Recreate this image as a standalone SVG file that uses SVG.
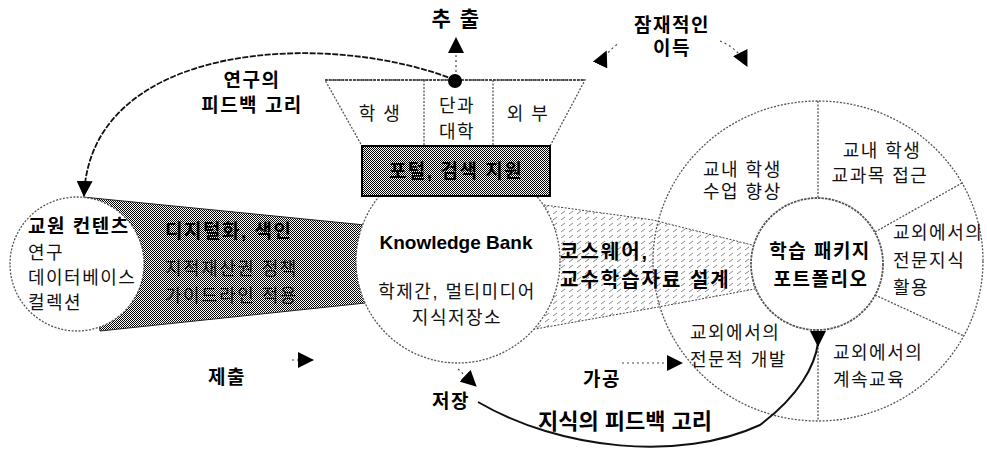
<svg xmlns="http://www.w3.org/2000/svg" width="987" height="453" viewBox="0 0 987 453">
<defs>
<style>
.t{font-family:"Liberation Sans","Noto Sans CJK KR",sans-serif;font-size:18px;fill:#111;letter-spacing:1.5px}
.b{font-weight:bold;font-size:19px;fill:#000}
.m{text-anchor:middle}
.dot{fill:none;stroke:#555;stroke-width:1.3;stroke-dasharray:2 1.5}
.wdot{fill:#fff;stroke:#555;stroke-width:1.3;stroke-dasharray:2 1.5}
.faint{fill:none;stroke:#444;stroke-width:1.2;stroke-dasharray:2 3}
</style>
<pattern id="dk" width="2" height="2" patternUnits="userSpaceOnUse">
<rect width="2" height="2" fill="#fff"/><rect width="1" height="1" fill="#000"/><rect x="1" y="1" width="1" height="1" fill="#000"/>
</pattern>
<pattern id="lt" width="8" height="6" patternUnits="userSpaceOnUse">
<rect width="8" height="6" fill="#fff"/><path d="M1,4 L5,1" stroke="#777" stroke-width="0.9"/>
</pattern>
<marker id="hEnd" markerUnits="userSpaceOnUse" markerWidth="16" markerHeight="16" viewBox="0 0 16 16" refX="15" refY="8" orient="auto">
<path d="M0,0 L16,8 L0,16 z" fill="#000"/>
</marker>
<marker id="hStart" markerUnits="userSpaceOnUse" markerWidth="16" markerHeight="16" viewBox="0 0 16 16" refX="0" refY="8" orient="auto">
<path d="M0,0 L16,8 L0,16 z" fill="#000"/>
</marker>
</defs>
<rect width="987" height="453" fill="#fff"/>

<g id="band-digitize">
<polygon points="83,197 375,226 375,302 100,331" fill="url(#dk)" stroke="#222" stroke-width="1"/>
</g>
<g id="band-course">
<polygon points="530,203 653,220 760,247 760,288 653,308 530,330" fill="url(#lt)" stroke="#444" stroke-width="1" stroke-dasharray="2 1.5"/>
</g>

<g id="fan">
<ellipse cx="818" cy="261" rx="165" ry="160" class="dot"/>
<line x1="818" y1="101" x2="818" y2="198" class="dot"/>
<line x1="875" y1="232" x2="962" y2="183" class="dot"/>
<line x1="875" y1="295" x2="964" y2="336" class="dot"/>
<line x1="818" y1="330" x2="818" y2="421" class="dot"/>
</g>

<g id="faculty-content">
<circle cx="77" cy="264" r="67" class="wdot"/>
</g>
<g id="knowledge-bank">
<circle cx="458" cy="261" r="102" class="wdot"/>
</g>
<g id="learning-package">
<circle cx="817" cy="264" r="66" fill="#fff" stroke="#555" stroke-width="1.8" stroke-dasharray="2.5 1"/>
</g>

<g id="funnel">
<polygon points="325,80 585,80 550,146 362,146" fill="#fff" stroke="#555" stroke-width="1.3" stroke-dasharray="2 1.5"/>
<line x1="325" y1="80" x2="585" y2="80" stroke="#333" stroke-width="1.5" stroke-dasharray="3 1"/>
<line x1="424" y1="80" x2="424" y2="146" class="dot"/>
<line x1="493" y1="80" x2="493" y2="146" class="dot"/>
</g>
<g id="portal">
<rect x="362" y="146" width="188" height="50" fill="url(#dk)" stroke="#000" stroke-width="2"/>
</g>

<g id="connectors">
<path d="M455,80 C330,30 90,40 84,196" stroke="#111" stroke-width="1.8" fill="none" stroke-dasharray="6 1.5" marker-end="url(#hEnd)"/>
<circle cx="455" cy="81" r="7" fill="#000"/>
<path d="M456,72 L456,38" class="faint" marker-end="url(#hEnd)"/>
<path d="M600,65 Q606,52 619,43" class="faint" marker-start="url(#hStart)"/>
<path d="M720,41 Q738,48 747,66" class="faint" marker-end="url(#hEnd)"/>
<path d="M292,360 L313,360" class="faint" marker-end="url(#hEnd)"/>
<path d="M458,369 L476,386" class="faint" marker-end="url(#hEnd)"/>
<path d="M622,363 L682,363" class="faint" marker-end="url(#hEnd)"/>
<path d="M478,402 C560,450 680,462 760,425 C800,395 815,365 818,343" stroke="#111" stroke-width="2" fill="none"/>
<path d="M818,331 L818,346" stroke="#111" stroke-width="1.5" fill="none" marker-start="url(#hStart)"/>
</g>

<g id="labels">
<text class="t b m" x="456" y="26" style="font-size:21px">추 출</text>
<text class="t b m" x="252" y="87">연구의</text>
<text class="t b m" x="252" y="112">피드백 고리</text>
<text class="t b m" x="672" y="32">잠재적인</text>
<text class="t b m" x="672" y="55">이득</text>
<text class="t b m" x="227" y="384">제출</text>
<text class="t b m" x="451" y="408">저장</text>
<text class="t b m" x="602" y="386">가공</text>
<text class="t b m" x="625" y="429" style="font-size:22px;letter-spacing:0">지식의 피드백 고리</text>
</g>

<g id="funnel-text">
<text class="t m" x="380" y="120">학 생</text>
<text class="t m" x="457" y="112">단과</text>
<text class="t m" x="457" y="138">대학</text>
<text class="t m" x="528" y="120">외 부</text>
<text class="t b m" x="456" y="178">포털, 검색 지원</text>
</g>

<g id="kb-text">
<text class="t b m" x="456" y="249" style="letter-spacing:0">Knowledge Bank</text>
<text class="t m" x="457" y="298">학제간, 멀티미디어</text>
<text class="t m" x="457" y="324">지식저장소</text>
</g>

<g id="faculty-text">
<text class="t b" x="28" y="233">교원 컨텐츠</text>
<text class="t" x="28" y="259">연구</text>
<text class="t" x="28" y="284">데이터베이스</text>
<text class="t" x="28" y="309">컬렉션</text>
</g>

<g id="digitize-text">
<text class="t b" x="165" y="238">디지털화, 색인</text>
<text class="t" x="165" y="275">지적재산권 정책</text>
<text class="t" x="165" y="302">가이드라인 적용</text>
</g>

<g id="course-text">
<text class="t b" x="560" y="259" style="font-size:20px;letter-spacing:2px">코스웨어,</text>
<text class="t b" x="560" y="287" style="font-size:20px;letter-spacing:2px">교수학습자료 설계</text>
</g>

<g id="package-text">
<text class="t b m" x="820" y="258">학습 패키지</text>
<text class="t b m" x="821" y="286">포트폴리오</text>
</g>

<g id="fan-text">
<text class="t" x="703" y="176">교내 학생</text>
<text class="t" x="703" y="198">수업 향상</text>
<text class="t m" x="882" y="157">교내 학생</text>
<text class="t m" x="880" y="182">교과목 접근</text>
<text class="t" x="893" y="239">교외에서의</text>
<text class="t" x="893" y="267">전문지식</text>
<text class="t" x="893" y="294">활용</text>
<text class="t" x="690" y="339">교외에서의</text>
<text class="t" x="690" y="366">전문적 개발</text>
<text class="t" x="833" y="359">교외에서의</text>
<text class="t" x="833" y="386">계속교육</text>
</g>
</svg>
